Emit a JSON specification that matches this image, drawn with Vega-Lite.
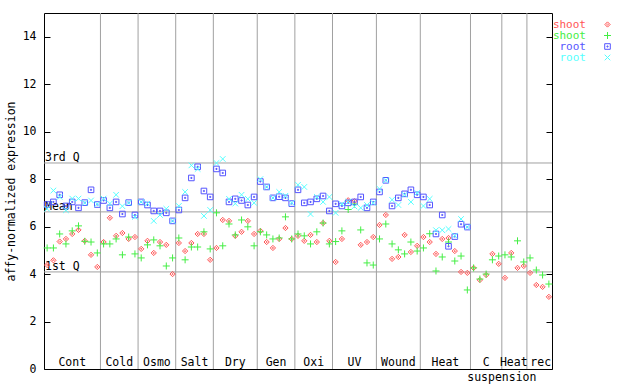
{
"$schema": "https://vega.github.io/schema/vega-lite/v6.json",
"width": 508, "height": 356,
"autosize": {"type": "none"},
"padding": {"left": 44, "top": 13, "right": 88, "bottom": 15},
"background": "white",
"config": {"view": {"stroke": "black", "strokeWidth": 1}, "font": "DejaVu Sans Mono"},
"datasets": {
"pts": [
{"i":0,"s":"s1","v":4.38},{"i":1,"s":"s1","v":4.58},{"i":2,"s":"s1","v":5.37},{"i":3,"s":"s1","v":5.48},{"i":4,"s":"s1","v":5.69},{"i":5,"s":"s1","v":5.86},{"i":6,"s":"s1","v":5.40},{"i":7,"s":"s1","v":4.81},{"i":8,"s":"s1","v":4.30},{"i":9,"s":"s1","v":5.35},
{"i":10,"s":"s1","v":6.37},{"i":11,"s":"s1","v":5.61},{"i":12,"s":"s1","v":5.73},{"i":13,"s":"s1","v":5.48},{"i":14,"s":"s1","v":5.56},{"i":15,"s":"s1","v":5.06},{"i":16,"s":"s1","v":5.40},{"i":17,"s":"s1","v":4.89},{"i":18,"s":"s1","v":5.35},{"i":19,"s":"s1","v":5.23},
{"i":20,"s":"s1","v":4.00},{"i":21,"s":"s1","v":5.31},{"i":22,"s":"s1","v":4.97},{"i":23,"s":"s1","v":5.31},{"i":24,"s":"s1","v":5.69},{"i":25,"s":"s1","v":5.69},{"i":26,"s":"s1","v":4.60},{"i":27,"s":"s1","v":5.10},{"i":28,"s":"s1","v":6.28},{"i":29,"s":"s1","v":6.24},
{"i":30,"s":"s1","v":5.61},{"i":31,"s":"s1","v":5.78},{"i":32,"s":"s1","v":6.24},{"i":33,"s":"s1","v":5.69},{"i":34,"s":"s1","v":5.82},{"i":35,"s":"s1","v":5.35},{"i":36,"s":"s1","v":5.10},{"i":37,"s":"s1","v":5.48},{"i":38,"s":"s1","v":5.94},{"i":39,"s":"s1","v":5.48},
{"i":40,"s":"s1","v":5.61},{"i":41,"s":"s1","v":5.40},{"i":42,"s":"s1","v":5.65},{"i":43,"s":"s1","v":5.35},{"i":44,"s":"s1","v":6.15},{"i":45,"s":"s1","v":5.40},{"i":46,"s":"s1","v":4.51},{"i":47,"s":"s1","v":5.48},{"i":48,"s":"s1","v":7.11},{"i":49,"s":"s1","v":7.07},
{"i":50,"s":"s1","v":5.23},{"i":51,"s":"s1","v":5.35},{"i":52,"s":"s1","v":5.56},{"i":53,"s":"s1","v":6.07},{"i":54,"s":"s1","v":6.49},{"i":55,"s":"s1","v":4.64},{"i":56,"s":"s1","v":4.72},{"i":57,"s":"s1","v":5.65},{"i":58,"s":"s1","v":4.93},{"i":59,"s":"s1","v":5.19},
{"i":60,"s":"s1","v":5.56},{"i":61,"s":"s1","v":5.35},{"i":62,"s":"s1","v":4.85},{"i":63,"s":"s1","v":5.48},{"i":64,"s":"s1","v":5.52},{"i":65,"s":"s1","v":4.97},{"i":66,"s":"s1","v":4.09},{"i":67,"s":"s1","v":4.05},{"i":68,"s":"s1","v":4.26},{"i":69,"s":"s1","v":3.75},
{"i":70,"s":"s1","v":3.96},{"i":71,"s":"s1","v":4.85},{"i":72,"s":"s1","v":4.43},{"i":73,"s":"s1","v":3.84},{"i":74,"s":"s1","v":4.89},{"i":75,"s":"s1","v":4.26},{"i":76,"s":"s1","v":4.34},{"i":77,"s":"s1","v":4.05},{"i":78,"s":"s1","v":3.54},{"i":79,"s":"s1","v":3.46},{"i":80,"s":"s1","v":3.04},
{"i":0,"s":"s2","v":5.10},{"i":1,"s":"s2","v":5.10},{"i":2,"s":"s2","v":5.69},{"i":3,"s":"s2","v":5.27},{"i":4,"s":"s2","v":5.82},{"i":5,"s":"s2","v":6.03},{"i":6,"s":"s2","v":5.38},{"i":7,"s":"s2","v":5.35},{"i":8,"s":"s2","v":4.89},{"i":9,"s":"s2","v":5.27},
{"i":10,"s":"s2","v":5.27},{"i":11,"s":"s2","v":5.48},{"i":12,"s":"s2","v":4.81},{"i":13,"s":"s2","v":5.56},{"i":14,"s":"s2","v":4.85},{"i":15,"s":"s2","v":4.68},{"i":16,"s":"s2","v":5.23},{"i":17,"s":"s2","v":5.44},{"i":18,"s":"s2","v":5.19},{"i":19,"s":"s2","v":4.34},
{"i":20,"s":"s2","v":4.68},{"i":21,"s":"s2","v":5.52},{"i":22,"s":"s2","v":4.60},{"i":23,"s":"s2","v":5.14},{"i":24,"s":"s2","v":5.14},{"i":25,"s":"s2","v":5.78},{"i":26,"s":"s2","v":5.06},{"i":27,"s":"s2","v":6.58},{"i":28,"s":"s2","v":5.19},{"i":29,"s":"s2","v":6.11},
{"i":30,"s":"s2","v":5.65},{"i":31,"s":"s2","v":6.28},{"i":32,"s":"s2","v":5.99},{"i":33,"s":"s2","v":5.19},{"i":34,"s":"s2","v":5.78},{"i":35,"s":"s2","v":5.65},{"i":36,"s":"s2","v":5.48},{"i":37,"s":"s2","v":5.52},{"i":38,"s":"s2","v":6.41},{"i":39,"s":"s2","v":5.48},
{"i":40,"s":"s2","v":5.69},{"i":41,"s":"s2","v":5.61},{"i":42,"s":"s2","v":5.27},{"i":43,"s":"s2","v":5.78},{"i":44,"s":"s2","v":6.15},{"i":45,"s":"s2","v":5.27},{"i":46,"s":"s2","v":5.37},{"i":47,"s":"s2","v":5.82},{"i":48,"s":"s2","v":6.72},{"i":49,"s":"s2","v":6.95},
{"i":50,"s":"s2","v":5.86},{"i":51,"s":"s2","v":4.47},{"i":52,"s":"s2","v":4.38},{"i":53,"s":"s2","v":5.48},{"i":54,"s":"s2","v":6.11},{"i":55,"s":"s2","v":5.27},{"i":56,"s":"s2","v":5.02},{"i":57,"s":"s2","v":4.85},{"i":58,"s":"s2","v":5.35},{"i":59,"s":"s2","v":4.97},
{"i":60,"s":"s2","v":5.10},{"i":61,"s":"s2","v":5.70},{"i":62,"s":"s2","v":4.13},{"i":63,"s":"s2","v":4.72},{"i":64,"s":"s2","v":5.35},{"i":65,"s":"s2","v":4.55},{"i":66,"s":"s2","v":4.76},{"i":67,"s":"s2","v":3.33},{"i":68,"s":"s2","v":4.26},{"i":69,"s":"s2","v":3.79},
{"i":70,"s":"s2","v":4.00},{"i":71,"s":"s2","v":4.60},{"i":72,"s":"s2","v":4.76},{"i":73,"s":"s2","v":4.81},{"i":74,"s":"s2","v":4.72},{"i":75,"s":"s2","v":5.40},{"i":76,"s":"s2","v":4.51},{"i":77,"s":"s2","v":4.68},{"i":78,"s":"s2","v":4.17},{"i":79,"s":"s2","v":3.96},{"i":80,"s":"s2","v":3.58},
{"i":0,"s":"r1","v":6.93},{"i":1,"s":"r1","v":7.04},{"i":2,"s":"r1","v":7.34},{"i":3,"s":"r1","v":6.87},{"i":4,"s":"r1","v":7.04},{"i":5,"s":"r1","v":6.79},{"i":6,"s":"r1","v":7.01},{"i":7,"s":"r1","v":7.55},{"i":8,"s":"r1","v":6.93},{"i":9,"s":"r1","v":7.10},
{"i":10,"s":"r1","v":6.79},{"i":11,"s":"r1","v":7.04},{"i":12,"s":"r1","v":6.53},{"i":13,"s":"r1","v":7.01},{"i":14,"s":"r1","v":6.49},{"i":15,"s":"r1","v":7.04},{"i":16,"s":"r1","v":6.91},{"i":17,"s":"r1","v":6.66},{"i":18,"s":"r1","v":6.66},{"i":19,"s":"r1","v":6.58},
{"i":20,"s":"r1","v":6.24},{"i":21,"s":"r1","v":6.70},{"i":22,"s":"r1","v":7.21},{"i":23,"s":"r1","v":8.05},{"i":24,"s":"r1","v":8.52},{"i":25,"s":"r1","v":7.50},{"i":26,"s":"r1","v":7.25},{"i":27,"s":"r1","v":8.43},{"i":28,"s":"r1","v":8.26},{"i":29,"s":"r1","v":7.04},
{"i":30,"s":"r1","v":7.17},{"i":31,"s":"r1","v":7.10},{"i":32,"s":"r1","v":6.91},{"i":33,"s":"r1","v":7.25},{"i":34,"s":"r1","v":7.90},{"i":35,"s":"r1","v":7.67},{"i":36,"s":"r1","v":7.21},{"i":37,"s":"r1","v":7.26},{"i":38,"s":"r1","v":7.21},{"i":39,"s":"r1","v":6.97},
{"i":40,"s":"r1","v":7.55},{"i":41,"s":"r1","v":7.00},{"i":42,"s":"r1","v":7.04},{"i":43,"s":"r1","v":7.17},{"i":44,"s":"r1","v":7.29},{"i":45,"s":"r1","v":6.66},{"i":46,"s":"r1","v":6.96},{"i":47,"s":"r1","v":6.87},{"i":48,"s":"r1","v":7.00},{"i":49,"s":"r1","v":7.04},
{"i":50,"s":"r1","v":7.25},{"i":51,"s":"r1","v":6.79},{"i":52,"s":"r1","v":7.04},{"i":53,"s":"r1","v":7.46},{"i":54,"s":"r1","v":7.95},{"i":55,"s":"r1","v":6.87},{"i":56,"s":"r1","v":7.21},{"i":57,"s":"r1","v":7.38},{"i":58,"s":"r1","v":7.55},{"i":59,"s":"r1","v":7.34},
{"i":60,"s":"r1","v":7.25},{"i":61,"s":"r1","v":6.91},{"i":62,"s":"r1","v":5.69},{"i":63,"s":"r1","v":6.49},{"i":64,"s":"r1","v":5.17},{"i":65,"s":"r1","v":5.58},{"i":66,"s":"r1","v":6.10},{"i":67,"s":"r1","v":5.98},
{"i":0,"s":"r2","v":6.75},{"i":1,"s":"r2","v":7.52},{"i":2,"s":"r2","v":7.25},{"i":3,"s":"r2","v":6.69},{"i":4,"s":"r2","v":7.18},{"i":5,"s":"r2","v":7.18},{"i":6,"s":"r2","v":7.00},{"i":7,"s":"r2","v":7.10},{"i":8,"s":"r2","v":6.95},{"i":9,"s":"r2","v":7.18},
{"i":10,"s":"r2","v":6.97},{"i":11,"s":"r2","v":7.34},{"i":12,"s":"r2","v":6.86},{"i":13,"s":"r2","v":7.00},{"i":14,"s":"r2","v":6.41},{"i":15,"s":"r2","v":7.04},{"i":16,"s":"r2","v":6.97},{"i":17,"s":"r2","v":6.24},{"i":18,"s":"r2","v":6.49},{"i":19,"s":"r2","v":6.75},
{"i":20,"s":"r2","v":6.24},{"i":21,"s":"r2","v":6.87},{"i":22,"s":"r2","v":7.46},{"i":23,"s":"r2","v":8.58},{"i":24,"s":"r2","v":8.43},{"i":25,"s":"r2","v":6.45},{"i":26,"s":"r2","v":6.70},{"i":27,"s":"r2","v":8.68},{"i":28,"s":"r2","v":8.85},{"i":29,"s":"r2","v":7.17},
{"i":30,"s":"r2","v":6.97},{"i":31,"s":"r2","v":7.34},{"i":32,"s":"r2","v":7.17},{"i":33,"s":"r2","v":7.00},{"i":34,"s":"r2","v":8.00},{"i":35,"s":"r2","v":7.67},{"i":36,"s":"r2","v":7.21},{"i":37,"s":"r2","v":7.46},{"i":38,"s":"r2","v":7.30},{"i":39,"s":"r2","v":7.00},
{"i":40,"s":"r2","v":7.76},{"i":41,"s":"r2","v":7.67},{"i":42,"s":"r2","v":6.53},{"i":43,"s":"r2","v":7.25},{"i":44,"s":"r2","v":7.04},{"i":45,"s":"r2","v":7.25},{"i":46,"s":"r2","v":6.58},{"i":47,"s":"r2","v":6.95},{"i":48,"s":"r2","v":7.05},{"i":49,"s":"r2","v":6.85},
{"i":50,"s":"r2","v":6.79},{"i":51,"s":"r2","v":6.91},{"i":52,"s":"r2","v":7.00},{"i":53,"s":"r2","v":7.59},{"i":54,"s":"r2","v":7.95},{"i":55,"s":"r2","v":7.13},{"i":56,"s":"r2","v":6.91},{"i":57,"s":"r2","v":7.34},{"i":58,"s":"r2","v":7.04},{"i":59,"s":"r2","v":7.42},
{"i":60,"s":"r2","v":6.87},{"i":61,"s":"r2","v":7.17},{"i":62,"s":"r2","v":5.85},{"i":63,"s":"r2","v":5.85},{"i":64,"s":"r2","v":5.90},{"i":65,"s":"r2","v":5.62},{"i":66,"s":"r2","v":6.32},{"i":67,"s":"r2","v":5.98}
],
"seps": [{"x":8.5},{"x":14.5},{"x":20.5},{"x":26.5},{"x":33.5},{"x":39.5},{"x":45.5},{"x":52.5},{"x":59.5},{"x":67.5},{"x":72.5},{"x":76.5}],
"labels": [
{"t":"Cont","x":4,"y":0.24},{"t":"Cold","x":11.5,"y":0.24},{"t":"Osmo","x":17.5,"y":0.24},{"t":"Salt","x":23.5,"y":0.24},
{"t":"Dry","x":30,"y":0.24},{"t":"Gen","x":36.5,"y":0.24},{"t":"Oxi","x":42.5,"y":0.24},{"t":"UV","x":49,"y":0.24},
{"t":"Wound","x":56,"y":0.24},{"t":"Heat","x":63.5,"y":0.24},{"t":"C","x":70,"y":0.24},{"t":"Heat","x":74.4,"y":0.24},
{"t":"rec","x":78.7,"y":0.24},{"t":"suspension","x":72.5,"y":-0.36}
],
"refs": [{"n":"3rd Q","v":8.68},{"n":"Mean","v":6.62},{"n":"1st Q","v":4.09}]
},
"resolve": {"axis": {"y": "independent"}},
"layer": [
{
"data": {"name": "seps"},
"mark": {"type": "rule", "color": "#a0a0a0", "strokeWidth": 1},
"encoding": {"x": {"field": "x", "type": "quantitative", "scale": {"domain": [-0.5, 80.5], "nice": false, "zero": false}, "axis": null}}
},
{
"data": {"name": "refs"},
"mark": {"type": "rule", "color": "#a0a0a0", "strokeWidth": 1},
"encoding": {"y": {"field": "v", "type": "quantitative", "scale": {"domain": [0, 15], "nice": false, "zero": true},
"axis": {"orient": "right", "values": [0,2,4,6,8,10,12,14], "labels": false, "domain": false, "grid": false, "tickSize": -6, "tickColor": "black", "title": null}}}
},
{
"data": {"name": "refs"},
"mark": {"type": "text", "align": "left", "baseline": "alphabetic", "dx": 1, "dy": -2, "font": "DejaVu Sans Mono", "fontSize": 11.5, "color": "black"},
"encoding": {"x": {"datum": -0.5, "type": "quantitative", "axis": null}, "y": {"field": "v", "type": "quantitative", "axis": null}, "text": {"field": "n"}}
},
{
"data": {"name": "labels"},
"mark": {"type": "text", "align": "center", "baseline": "middle", "font": "DejaVu Sans Mono", "fontSize": 11.5, "color": "black"},
"encoding": {"x": {"field": "x", "type": "quantitative", "axis": null}, "y": {"field": "y", "type": "quantitative", "axis": null}, "text": {"field": "t"}}
},
{
"data": {"name": "pts"},
"mark": {"type": "point", "filled": false, "strokeWidth": 1, "opacity": 1, "size": 49},
"encoding": {
"x": {"field": "i", "type": "quantitative", "axis": null},
"y": {"field": "v", "type": "quantitative",
"axis": {"orient": "left", "values": [0,2,4,6,8,10,12,14], "domain": false, "grid": false, "tickSize": -6, "tickColor": "black", "labelPadding": 14, "labelFont": "DejaVu Sans Mono", "labelFontSize": 11.5, "labelColor": "black", "title": "affy-normalized expression", "titleFont": "DejaVu Sans Mono", "titleFontSize": 11.5, "titleFontWeight": "normal", "titleColor": "black", "titlePadding": 6}},
"color": {"field": "s", "type": "nominal", "scale": {"domain": ["s1","s2","r1","r2"], "range": ["#ff5555","#44ee44","#5555ff","#55ffff"]},
"legend": {"orient": "none", "legendX": 558, "legendY": 6, "title": null, "labelExpr": "datum.value[0] == 's' ? 'shoot' : 'root'", "labelAlign": "right", "labelOffset": -27, "labelFont": "DejaVu Sans Mono", "labelFontSize": 11, "labelColor": {"expr": "scale('color', datum.value)"}, "symbolSize": 49, "symbolStrokeWidth": 1, "rowPadding": -1}},
"shape": {"field": "s", "type": "nominal", "scale": {"domain": ["s1","s2","r1","r2"], "range": ["M0,-0.75L0.75,0L0,0.75L-0.75,0Z M0,-0.2L0.2,0L0,0.2L-0.2,0Z", "M-1,0H1M0,-1V1", "M-0.8,-0.8H0.8V0.8H-0.8Z M-0.15,-0.15H0.15V0.15H-0.15Z", "M-0.8,-0.8L0.8,0.8M-0.8,0.8L0.8,-0.8"]},
"legend": {"orient": "none", "legendX": 558, "legendY": 6, "title": null, "labelExpr": "datum.value[0] == 's' ? 'shoot' : 'root'", "labelAlign": "right", "labelOffset": -27, "labelFont": "DejaVu Sans Mono", "labelFontSize": 11, "labelColor": {"expr": "scale('color', datum.value)"}, "symbolSize": 49, "symbolStrokeWidth": 1, "rowPadding": -1}}
}
}
]
}
